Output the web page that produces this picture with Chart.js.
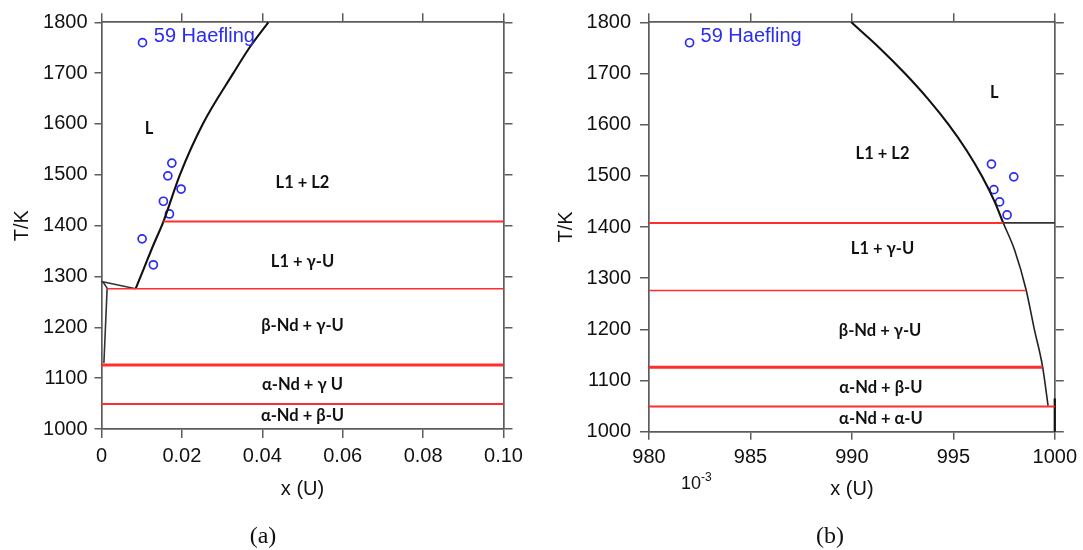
<!DOCTYPE html>
<html>
<head>
<meta charset="utf-8">
<script src="https://cdn.jsdelivr.net/npm/chart.js@4.4.1/dist/chart.umd.min.js"></script>
<style>
  html, body { margin: 0; padding: 0; background: #fff; }
  #wrap { position: relative; width: 1083px; height: 550px; overflow: hidden; background: #fff; }
  canvas { position: absolute; top: 0; }
  #cvA { left: 0; }
  #cvB { left: 541px; }
  .cap { position: absolute; top: 535px; transform: translate(-50%, -50%);
         font-family: "Liberation Serif", "DejaVu Serif", serif; font-size: 24px; color: #111; }
  .exp { position: absolute; left: 681px; top: 474px; line-height: 1;
         font-family: "Liberation Sans", Arial, sans-serif; font-size: 18px; color: #111; }
  .exp sup { font-size: 12px; position: relative; top: -3px; vertical-align: top; }
</style>
</head>
<body>
<div id="wrap">
  <canvas id="cvA" width="541" height="550"></canvas>
  <canvas id="cvB" width="542" height="550"></canvas>
  <div class="cap" style="left:263px">(a)</div>
  <div class="cap" style="left:830px">(b)</div>
  <div class="exp">10<sup>-3</sup></div>
</div>
<script>
// ---------- shared temperature axis ----------
const tempTicks = [1000, 1100, 1200, 1300, 1400, 1500, 1600, 1700, 1800];
const tempTickLabels = ['1000', '1100', '1200', '1300', '1400', '1500', '1600', '1700', '1800'];

// ---------- panel (a): Nd-rich side, x(U) 0 .. 0.10 ----------
const aXTicks = [0, 0.02, 0.04, 0.06, 0.08, 0.10];
const aXTickLabels = ['0', '0.02', '0.04', '0.06', '0.08', '0.10'];
const aMonotecticX = [0, 0.0085];
const aMonotecticT = [1290, 1276];
const aLiquidusX = [0.0085, 0.0104, 0.0128, 0.0154, 0.0195, 0.0252, 0.0328, 0.0368, 0.0415];
const aLiquidusT = [1276, 1313, 1360, 1408, 1500, 1600, 1700, 1750, 1800];
const aSolvusX = [0.0004, 0.0014, 0.0006];
const aSolvusT = [1289, 1277, 1130];
const aIsoT = [1408, 1276, 1126, 1049];
const aIsoFrom = [0.0154, 0.0014, 0, 0];
const aIsoTo = [0.10, 0.10, 0.10, 0.10];
const aExpX = [0.0102, 0.0175, 0.0165, 0.0198, 0.0154, 0.0169, 0.0101, 0.0129];
const aExpT = [1760, 1523, 1498, 1472, 1448, 1423, 1374, 1323];
const aPhaseText = ['L', 'L1 + L2', 'L1 + γ-U', 'β-Nd + γ-U', 'α-Nd + γ U', 'α-Nd + β-U'];
const aPhaseX = [0.0118, 0.050, 0.050, 0.050, 0.050, 0.050];
const aPhaseT = [1591, 1484, 1329, 1204, 1087, 1027];
const aNoteX = 0.013;
const aNoteT = 1772;

// ---------- panel (b): U-rich side, x(U) in 10^-3, 980 .. 1000 ----------
const bXTicks = [980, 985, 990, 995, 1000];
const bXTickLabels = ['980', '985', '990', '995', '1000'];
const bLiquidusX = [989.97, 991.36, 992.62, 993.76, 994.77, 995.65, 996.40, 997.03, 997.46];
const bLiquidusT = [1800, 1750, 1700, 1650, 1600, 1550, 1500, 1450, 1408];
const bSolidusX = [997.46, 998.02, 998.59, 999.0, 999.4, 999.67];
const bSolidusT = [1408, 1355, 1277, 1199, 1127, 1051];
const bTieX = [997.46, 1000];
const bTieT = [1408, 1408];
const bEdgeX = [1000, 1000];
const bEdgeT = [1000, 1065];
const bIsoT = [1408, 1276, 1126, 1049];
const bIsoFrom = [980, 980, 980, 980];
const bIsoTo = [997.46, 998.59, 999.4, 1000];
const bExpX = [982.0, 996.88, 997.98, 997.0, 997.28, 997.65];
const bExpT = [1760, 1523, 1498, 1473, 1449, 1423.5];
const bPhaseText = ['L', 'L1 + L2', 'L1 + γ-U', 'β-Nd + γ-U', 'α-Nd + β-U', 'α-Nd + α-U'];
const bPhaseX = [997.02, 991.51, 991.51, 991.39, 991.43, 991.43];
const bPhaseT = [1663, 1543, 1358, 1197, 1086, 1025];
const bNoteX = 982.54;
const bNoteT = 1772;

const noteText = '59 Haefling';

// ---------- styling ----------
const INK = '#111111';
const AXIS = '#5c5c5c';
const RED = 'rgb(255,45,45)';
const BLUE = '#2b2bf2';
const isoWidths = [2, 1.5, 3, 2];
const SANS = '"Liberation Sans", Arial, Helvetica, sans-serif';

function pts(xs, ts) { return xs.map((x, i) => ({ x: x, y: ts[i] })); }

function lineSet(data, color, width, smooth) {
  return {
    data: data, showLine: true, borderColor: color, borderWidth: width,
    pointRadius: 0, pointHoverRadius: 0, fill: false, clip: false,
    cubicInterpolationMode: smooth ? 'monotone' : 'default', tension: 0
  };
}

function isoSets(ts, from, to) {
  return ts.map((t, i) => lineSet(pts([from[i], to[i]], [t, t]), RED, isoWidths[i], false));
}

function expSet(xs, ts) {
  return {
    data: pts(xs, ts), showLine: false, pointStyle: 'circle', pointRadius: 4,
    pointHoverRadius: 4, borderColor: BLUE, backgroundColor: 'rgba(0,0,0,0)',
    pointBorderWidth: 1.7, clip: false
  };
}

function labelPlugin(texts, xs, ts, noteX, noteT) {
  return {
    id: 'phaseLabels',
    afterDatasetsDraw(chart) {
      const ctx = chart.ctx, sx = chart.scales.x, sy = chart.scales.y;
      ctx.save();
      ctx.font = 'bold 16.5px Lato, "Open Sans", sans-serif';
      ctx.fillStyle = INK;
      ctx.textAlign = 'center';
      ctx.textBaseline = 'middle';
      texts.forEach((t, i) => ctx.fillText(t, sx.getPixelForValue(xs[i]), sy.getPixelForValue(ts[i])));
      ctx.font = '20px ' + SANS;
      ctx.fillStyle = BLUE;
      ctx.textAlign = 'left';
      ctx.fillText(noteText, sx.getPixelForValue(noteX), sy.getPixelForValue(noteT));
      ctx.restore();
    }
  };
}

function frameScales(o) {
  const font = { family: SANS, size: 20 };
  const border = { display: true, color: AXIS, width: 1.7 };
  const grid = (len) => ({ drawOnChartArea: false, drawTicks: true, tickLength: len, color: AXIS, lineWidth: 1.5 });
  const setX = (s) => { s.ticks = o.xTicks.map(v => ({ value: v })); };
  const setY = (s) => { s.ticks = tempTicks.map(v => ({ value: v })); };
  return {
    x: {
      type: 'linear', position: 'bottom', min: o.xMin, max: o.xMax,
      grid: grid(o.xTick), border: border,
      ticks: { color: INK, font: font, padding: o.xPad, maxRotation: 0, autoSkip: false,
               callback: (v, i) => o.xLabels[i] },
      afterBuildTicks: setX,
      afterFit: (s) => { s.height = o.bottom; },
      title: { display: true, text: 'x (U)', color: INK, font: font, padding: { top: 0, bottom: o.xTitlePad } }
    },
    xTop: {
      type: 'linear', axis: 'x', position: 'top', min: o.xMin, max: o.xMax,
      grid: grid(9), border: border, ticks: { display: false },
      afterBuildTicks: setX,
      afterFit: (s) => { s.height = o.top; }
    },
    y: {
      type: 'linear', position: 'left', min: 1000, max: 1800,
      grid: grid(o.yTick), border: border,
      ticks: { color: INK, font: font, padding: o.yPad, autoSkip: false,
               callback: (v, i) => tempTickLabels[i] },
      afterBuildTicks: setY,
      afterFit: (s) => { s.width = o.left; },
      title: { display: true, text: 'T/K', color: INK, font: font, padding: { top: o.yTitlePad, bottom: 0 } }
    },
    yRight: {
      type: 'linear', axis: 'y', position: 'right', min: 1000, max: 1800,
      grid: grid(9), border: border, ticks: { display: false },
      afterBuildTicks: setY,
      afterFit: (s) => { s.width = o.right; }
    }
  };
}

function baseOptions(scales) {
  return {
    responsive: false, animation: false, devicePixelRatio: 1,
    layout: { padding: 0 },
    plugins: { legend: { display: false }, tooltip: { enabled: false } },
    events: [],
    scales: scales
  };
}

// ---------- panel (a) ----------
new Chart(document.getElementById('cvA'), {
  type: 'scatter',
  data: {
    datasets: [
      ...isoSets(aIsoT, aIsoFrom, aIsoTo),
      lineSet(pts(aMonotecticX, aMonotecticT), '#333', 1.6, false),
      lineSet(pts(aSolvusX, aSolvusT), '#333', 1.6, false),
      lineSet(pts(aLiquidusX, aLiquidusT), INK, 2.1, true),
      expSet(aExpX, aExpT)
    ]
  },
  options: baseOptions(frameScales({
    xMin: 0, xMax: 0.10, xTicks: aXTicks, xLabels: aXTickLabels,
    left: 101.5, right: 37.5, top: 22.3, bottom: 121,
    xTick: 9, xPad: 6, yTick: 7, yPad: 7, xTitlePad: 49, yTitlePad: 10.5
  })),
  plugins: [labelPlugin(aPhaseText, aPhaseX, aPhaseT, aNoteX, aNoteT)]
});

// ---------- panel (b) ----------
new Chart(document.getElementById('cvB'), {
  type: 'scatter',
  data: {
    datasets: [
      ...isoSets(bIsoT, bIsoFrom, bIsoTo),
      lineSet(pts(bTieX, bTieT), '#333', 1.6, false),
      lineSet(pts(bEdgeX, bEdgeT), INK, 2.2, false),
      lineSet(pts(bLiquidusX, bLiquidusT), INK, 2.1, true),
      lineSet(pts(bSolidusX, bSolidusT), '#222', 1.6, true),
      expSet(bExpX, bExpT)
    ]
  },
  options: baseOptions(frameScales({
    xMin: 980, xMax: 1000, xTicks: bXTicks, xLabels: bXTickLabels,
    left: 108, right: 24, top: 22.3, bottom: 118.3,
    xTick: 8, xPad: 6, yTick: 9, yPad: 9, xTitlePad: 49, yTitlePad: 13.7
  })),
  plugins: [labelPlugin(bPhaseText, bPhaseX, bPhaseT, bNoteX, bNoteT)]
});
</script>
</body>
</html>
